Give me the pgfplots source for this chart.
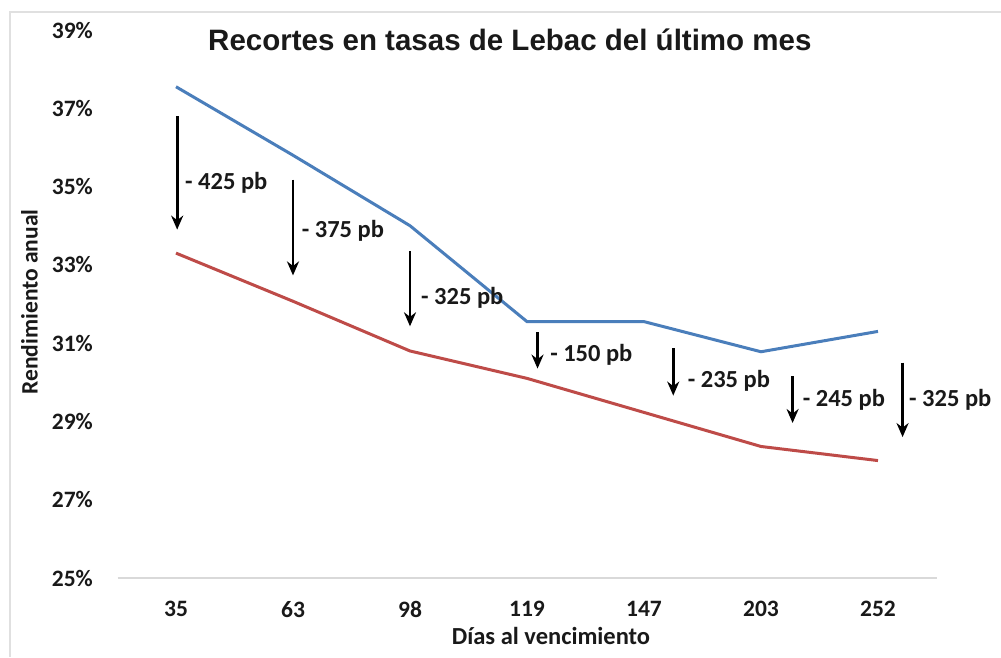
\documentclass[border=0pt]{standalone}
\usepackage{pgfplots}
\pgfplotsset{compat=1.18}
\usepackage{fontspec}
\setmainfont{Carlito}
\newfontfamily\titlefont{Liberation Sans}
\usetikzlibrary{arrows.meta}
\definecolor{blueline}{HTML}{4A7EBB}
\definecolor{redline}{HTML}{BE4B48}
\begin{document}
\begin{tikzpicture}[x=1pt,y=1pt]
\useasboundingbox (0,0) rectangle (1001,657);
\fill[white] (0,0) rectangle (1001,657);
\draw[black!12, line width=1.5pt] (10,0) -- (10,645) -- (1001,645);
\begin{axis}[
  at={(117.5pt,79pt)}, anchor=south west,
  scale only axis, width=819pt, height=548pt,
  xmin=-0.5, xmax=6.5, ymin=25, ymax=39,
  axis x line*=bottom, axis y line*=left,
  x axis line style={draw=black!15, line width=1.5pt},
  y axis line style={draw=none},
  major tick length=0pt,
  xtick={0,...,6}, xticklabels={35,63,98,119,147,203,252},
  ytick={25,27,...,39}, yticklabels={25\%,27\%,29\%,31\%,33\%,35\%,37\%,39\%},
  tick label style={font=\bfseries\fontsize{23.5}{23.5}\selectfont, text=black!90},
  x tick label style={anchor=north, inner sep=0pt, yshift=-23pt},
  y tick label style={anchor=east, inner sep=0pt, xshift=-24.5pt},
  clip=false,
]
\addplot[blueline, line width=3pt] coordinates {(0,37.55)(1,35.8)(2,34.0)(3,31.55)(4,31.55)(5,30.78)(6,31.3)};
\addplot[redline, line width=3pt] coordinates {(0,33.3)(1,32.07)(2,30.8)(3,30.1)(4,29.23)(5,28.36)(6,28.0)};
\tikzset{arr/.style={-{Stealth[length=14pt,width=12pt]}, line width=2.9pt, black}}
\draw[arr] (axis cs:0.01,36.80) -- (axis cs:0.01,33.90);
\draw[arr] (axis cs:1.0,35.18) -- (axis cs:1.0,32.73);
\draw[arr] (axis cs:2.0,33.35) -- (axis cs:2.0,31.43);
\draw[arr] (axis cs:3.09,31.28) -- (axis cs:3.09,30.35);
\draw[arr] (axis cs:4.25,30.87) -- (axis cs:4.25,29.66);
\draw[arr] (axis cs:5.27,30.15) -- (axis cs:5.27,28.96);
\draw[arr] (axis cs:6.21,30.50) -- (axis cs:6.21,28.60);
\tikzset{lab/.style={anchor=west, inner sep=0pt, font=\bfseries\fontsize{24.5}{24.5}\selectfont, text=black!90}}
\node[lab] at (axis cs:0.077,35.09) {- 425 pb};
\node[lab] at (axis cs:1.074,33.88) {- 375 pb};
\node[lab] at (axis cs:2.094,32.17) {- 325 pb};
\node[lab] at (axis cs:3.197,30.69) {- 150 pb};
\node[lab] at (axis cs:4.373,30.05) {- 235 pb};
\node[lab] at (axis cs:5.356,29.54) {- 245 pb};
\node[lab] at (axis cs:6.265,29.54) {- 325 pb};
\end{axis}
\node[anchor=base west, inner sep=0pt, font=\titlefont\bfseries\fontsize{29.5}{29.5}\selectfont, text=black!90] at (208,606) {Recortes en tasas de Lebac del último mes};
\node[anchor=base, inner sep=0pt, font=\bfseries\fontsize{24.5}{24.5}\selectfont, text=black!90] at (551,13) {Días al vencimiento};
\node[anchor=base, rotate=90, inner sep=0pt, font=\bfseries\fontsize{23.5}{23.5}\selectfont, text=black!90] at (37.5,355) {Rendimiento anual};
\end{tikzpicture}
\end{document}
